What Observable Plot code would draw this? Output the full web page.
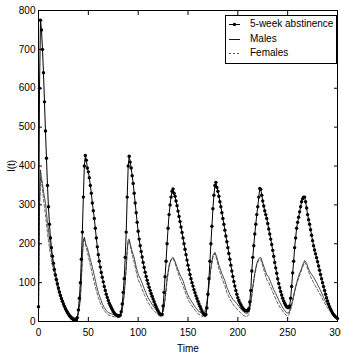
<!DOCTYPE html>
<html>
<head>
<meta charset="utf-8">
<script src="https://cdn.jsdelivr.net/npm/d3@7"></script>
<script src="https://cdn.jsdelivr.net/npm/@observablehq/plot@0.6"></script>
<style>
  html, body { margin: 0; padding: 0; background: #fff; }
  #chart { position: relative; width: 341px; height: 358px; overflow: hidden; }
  #legend {
    position: absolute; left: 225px; top: 15px; width: 110px; height: 47px;
    border: 1px solid #000; background: #fff;
    font-family: 'Liberation Sans', Arial, Helvetica, sans-serif; font-size: 10px; color: #000;
  }
  #legend .row { position: absolute; left: 0; height: 14px; width: 110px; }
  #legend svg { position: absolute; left: 0; top: 0; }
  #legend span { position: absolute; left: 24px; top: 0; line-height: 14px; white-space: nowrap; }
</style>
</head>
<body>
<div id="chart"></div>
<script>
// I(t) for the 5-week abstinence scenario, one value per day, t = 0..300
const fiveWeek = [
  38, 600, 775, 750, 700, 640, 565, 490, 420, 350,
  295, 250, 215, 190, 168, 150, 134, 120, 108, 97,
  86, 76, 67, 59, 52, 45, 39, 33, 28, 23,
  19, 15, 12, 9, 7, 5, 4, 3, 4, 10,
  30, 60, 100, 160, 230, 320, 400, 427, 415, 395,
  385, 370, 350, 330, 305, 285, 265, 240, 215, 192,
  172, 155, 140, 126, 114, 102, 90, 80, 70, 62,
  54, 47, 41, 36, 31, 26, 22, 19, 17, 15,
  14, 14, 16, 25, 45, 75, 110, 165, 230, 320,
  400, 425, 410, 395, 375, 355, 330, 305, 280, 255,
  232, 212, 195, 180, 166, 152, 139, 127, 116, 106,
  97, 88, 80, 72, 65, 58, 51, 44, 38, 32,
  27, 22, 19, 17, 18, 40, 75, 115, 155, 200,
  240, 275, 300, 320, 335, 341, 330, 322, 310, 298,
  284, 270, 257, 243, 229, 215, 200, 186, 172, 158,
  145, 133, 121, 110, 100, 91, 82, 74, 66, 59,
  52, 45, 39, 33, 27, 22, 18, 16, 18, 35,
  70, 110, 155, 200, 245, 290, 325, 350, 358, 345,
  335, 322, 308, 295, 280, 265, 250, 235, 220, 205,
  190, 175, 160, 145, 130, 116, 103, 91, 80, 70,
  61, 54, 48, 43, 38, 34, 31, 29, 28, 27,
  28, 33, 50, 80, 130, 165, 195, 225, 250, 275,
  295, 320, 342, 340, 325, 310, 297, 285, 275, 265,
  252, 238, 225, 212, 198, 183, 168, 152, 138, 124,
  110, 98, 87, 77, 68, 60, 53, 47, 42, 38,
  36, 36, 40, 60, 90, 125, 155, 190, 215, 240,
  255, 268, 282, 295, 308, 316, 320, 320, 308, 292,
  275, 262, 250, 236, 222, 208, 195, 184, 174, 164,
  154, 143, 132, 121, 110, 100, 90, 80, 70, 61,
  53, 45, 38, 32, 27, 22, 18, 15, 12, 10,
  8
];

// Males: [time, I(t)]
const males = [
  [0,20],[1,300],[2,390],[3,370],[4,355],[5,335],[6,320],[7,305],[8,280],[9,255],
  [10,235],[11,215],[12,195],[13,178],[14,162],[15,148],[16,135],[17,122],[18,110],[19,100],
  [20,90],[21,80],[22,72],[24,57],[26,45],[28,34],[30,25],[32,18],[34,13],[36,10],
  [38,10],[40,20],[42,60],[43,110],[44,170],[45,210],[46,217],[47,205],[48,195],[49,190],
  [50,180],[52,160],[54,140],[56,118],[58,95],[60,75],[62,60],[64,46],[66,36],[68,28],
  [70,23],[73,20],[76,17],[79,15],[82,17],[84,30],[86,70],[88,140],[89,185],[90,210],
  [91,212],[92,200],[94,180],[96,165],[98,140],[100,122],[103,105],[106,85],[109,66],[112,52],
  [115,40],[118,30],[121,22],[123,20],[125,25],[127,60],[129,110],[131,145],[133,160],[135,165],
  [137,155],[139,140],[142,120],[145,105],[148,80],[151,62],[154,50],[157,38],[160,28],[163,22],
  [165,20],[167,25],[169,50],[171,95],[173,140],[175,170],[177,178],[179,165],[181,145],[184,123],
  [187,105],[189,88],[192,70],[195,57],[199,46],[203,32],[206,24],[209,20],[211,25],[213,50],
  [215,90],[217,125],[219,150],[221,162],[223,165],[225,150],[227,135],[229,120],[231,114],[234,95],
  [236,82],[238,72],[241,55],[244,40],[247,28],[249,22],[251,22],[253,35],[255,55],[257,80],
  [259,100],[261,118],[263,130],[265,145],[267,157],[269,150],[271,135],[273,125],[276,114],[279,100],
  [283,80],[286,62],[290,42],[294,28],[297,18],[300,11]
];

// Females: [time, I(t)]
const females = [
  [0,15],[1,280],[2,370],[3,360],[4,340],[5,315],[6,295],[7,275],[8,250],[9,228],
  [10,208],[11,190],[12,172],[13,157],[14,143],[15,130],[16,118],[17,106],[18,96],[19,86],
  [20,77],[21,69],[22,62],[24,48],[26,37],[28,27],[30,19],[32,13],[34,9],[36,7],
  [38,8],[40,18],[42,55],[43,105],[44,165],[45,205],[46,215],[47,200],[48,188],[49,180],
  [50,168],[52,145],[54,122],[56,100],[58,80],[60,62],[62,48],[64,37],[66,28],[68,22],
  [70,17],[73,14],[76,12],[79,11],[82,14],[84,28],[86,68],[88,135],[89,180],[90,205],
  [91,208],[92,195],[94,172],[96,152],[98,128],[100,108],[103,90],[106,70],[109,54],[112,40],
  [115,30],[118,22],[121,15],[123,13],[125,20],[127,55],[129,105],[131,140],[133,158],[135,163],
  [137,150],[139,133],[142,110],[145,92],[148,70],[151,52],[154,40],[157,29],[160,20],[163,15],
  [165,13],[167,20],[169,45],[171,90],[173,135],[175,165],[177,175],[179,158],[181,135],[184,112],
  [187,92],[189,75],[192,58],[195,45],[199,32],[203,22],[206,15],[209,12],[211,18],[213,45],
  [215,85],[217,120],[219,145],[221,158],[223,160],[225,142],[227,125],[229,108],[231,100],[234,82],
  [236,70],[238,58],[241,42],[244,30],[247,20],[249,15],[251,16],[253,30],[255,50],[257,75],
  [259,95],[261,112],[263,125],[265,140],[267,152],[269,145],[271,128],[273,115],[276,100],[279,86],
  [283,68],[286,52],[290,35],[294,22],[297,13],[300,6]
];

const xTicks = [0, 50, 100, 150, 200, 250, 300];
const yTicks = [0, 100, 200, 300, 400, 500, 600, 700, 800];
const seriesNames = ["5-week abstinence", "Males", "Females"];
const xTitle = "Time";
const yTitle = "I(t)";

const fiveTable = fiveWeek.map((v, i) => ({t: i, v}));
const maleTable = males.map(([t, v]) => ({t, v}));
const femaleTable = females.map(([t, v]) => ({t, v}));

const FONT = "'Liberation Sans', Arial, Helvetica, sans-serif";

const chart = Plot.plot({
  width: 341,
  height: 358,
  marginLeft: 38,
  marginRight: 4,
  marginTop: 10,
  marginBottom: 37,
  style: {fontFamily: FONT, fontSize: "10px", color: "#000", background: "#fff"},
  x: {domain: [0, 300]},
  y: {domain: [0, 800]},
  marks: [
    Plot.line(femaleTable, {x: "t", y: "v", stroke: "#3a3a3a", strokeWidth: 0.8, strokeDasharray: "3,2"}),
    Plot.line(maleTable, {x: "t", y: "v", stroke: "#222", strokeWidth: 0.8}),
    Plot.line(fiveTable, {x: "t", y: "v", stroke: "#000", strokeWidth: 1}),
    Plot.dot(fiveTable, {x: "t", y: "v", r: 1.7, fill: "#000", stroke: null}),
    Plot.frame({stroke: "#000", strokeWidth: 1}),
    Plot.axisX(xTicks, {anchor: "bottom", tickSize: -4, tickPadding: 11, label: xTitle, labelAnchor: "center", labelArrow: "none", labelOffset: 30}),
    Plot.axisX(xTicks, {anchor: "top", tickSize: -4, tickFormat: () => "", label: null}),
    Plot.axisY(yTicks, {anchor: "left", tickSize: -4, tickPadding: 7, label: yTitle, labelAnchor: "center", labelArrow: "none", labelOffset: 31}),
    Plot.axisY(yTicks, {anchor: "right", tickSize: -4, tickFormat: () => "", label: null})
  ]
});

const holder = document.getElementById("chart");
holder.appendChild(chart);

// In-plot legend box (top right, Matlab style)
const legend = d3.select(holder).append("div").attr("id", "legend");
const rowTops = [1, 15.5, 30];
seriesNames.forEach((name, i) => {
  const row = legend.append("div").attr("class", "row").style("top", rowTops[i] + "px");
  const sw = row.append("svg").attr("width", 22).attr("height", 14);
  const ln = sw.append("line").attr("x1", 3).attr("x2", 14).attr("y1", 7.5).attr("y2", 7.5)
    .attr("stroke", i === 2 ? "#3a3a3a" : "#000").attr("stroke-width", i === 0 ? 1 : 0.9);
  if (i === 2) ln.attr("stroke-dasharray", "2,2");
  if (i === 0) sw.append("circle").attr("cx", 8.5).attr("cy", 7.5).attr("r", 1.7).attr("fill", "#000");
  row.append("span").text(name);
});
</script>
</body>
</html>
